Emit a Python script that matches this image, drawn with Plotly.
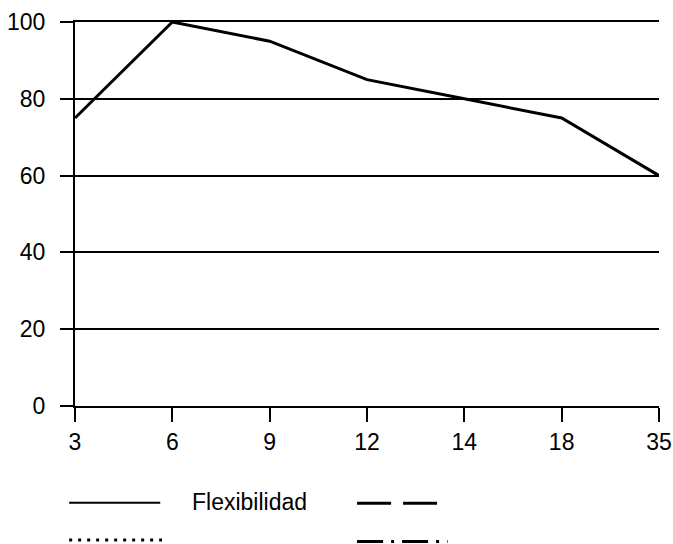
import plotly.graph_objects as go

# Data
edades = ["3", "6", "9", "12", "14", "18", "35"]
flexibilidad = [75, 100, 95, 85, 80, 75, 60]
y_ticks = [0, 20, 40, 60, 80, 100]

# Legend entries (only the first one carries a label)
legend_names = ["Flexibilidad", "", "", ""]
legend_dash = ["solid", "34px,12px", "3px,6px", "26px,8px,3px,8px"]

FONT = "Liberation Sans, Arial, sans-serif"
FS = 23

fig = go.Figure()

fig.add_trace(go.Scatter(
    x=edades,
    y=flexibilidad,
    mode="lines",
    name=legend_names[0],
    line=dict(color="black", width=3),
    cliponaxis=False,
    showlegend=False,
))

# Hand-made legend below the plot (paper coordinates)
legend_pos = [
    (-0.010, 0.146, -0.252, 2),
    (0.483, 0.621, -0.253, 3),
    (-0.010, 0.149, -0.349, 3),
    (0.483, 0.638, -0.353, 3),
]
for (x0, x1, yy, w), dash in zip(legend_pos, legend_dash):
    fig.add_shape(type="line", xref="paper", yref="paper",
                  x0=x0, x1=x1, y0=yy, y1=yy,
                  line=dict(color="black", width=w, dash=dash))

fig.add_annotation(
    text=legend_names[0], xref="paper", yref="paper",
    x=0.197, y=-0.25, xanchor="left", yanchor="middle",
    showarrow=False, font=dict(size=FS, color="black", family=FONT),
)

fig.update_layout(
    width=673,
    height=544,
    margin=dict(l=75, r=14, t=22, b=138, autoexpand=False),
    paper_bgcolor="white",
    plot_bgcolor="white",
    font=dict(family=FONT, size=FS, color="black"),
)

fig.update_xaxes(
    type="category",
    range=[0, 6],
    automargin=False,
    showgrid=False,
    showline=True, mirror=True, linecolor="black", linewidth=2,
    ticks="outside", ticklen=14, tickwidth=2, tickcolor="black",
    ticklabelstandoff=0,
    tickfont=dict(size=FS),
)
fig.update_yaxes(
    range=[0, 100],
    tickvals=y_ticks,
    automargin=False,
    showgrid=True, gridcolor="black", gridwidth=2,
    zeroline=False,
    showline=True, linecolor="black", linewidth=2,
    ticks="outside", ticklen=13, tickwidth=2, tickcolor="black",
    ticklabelstandoff=10,
    tickfont=dict(size=FS),
)

# drop the default 8px page margin so the figure fills the window exactly
fig.write_html("out.html",
               config={"displayModeBar": False},
               post_script="document.body.style.margin='0';document.body.style.overflow='hidden';")
